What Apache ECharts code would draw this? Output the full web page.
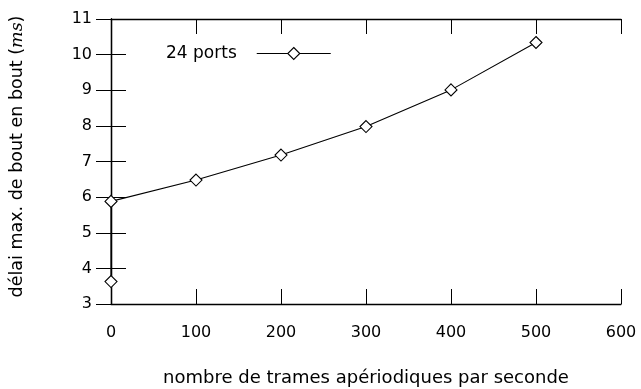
<!DOCTYPE html>
<html>
<head>
<meta charset="utf-8">
<script src="https://cdn.jsdelivr.net/npm/echarts@6/dist/echarts.min.js"></script>
<style>html,body{margin:0;padding:0;background:#fff}#c{width:641px;height:389px}</style>
</head>
<body>
<div id="c"></div>
<script>
var seriesName = '24 ports';
var xValues = [0, 0, 100, 200, 300, 400, 500];
var yValues = [3.63, 5.88, 6.48, 7.18, 7.98, 9.01, 10.34];
var xTicks = [0, 100, 200, 300, 400, 500, 600];
var yTicks = [3, 4, 5, 6, 7, 8, 9, 10, 11];
var xTitle = 'nombre de trames apériodiques par seconde';

var FONT = 'DejaVu Sans';
var chart = echarts.init(document.getElementById('c'), null, {renderer: 'canvas'});
var data = xValues.map(function (x, i) { return [x, yValues[i]]; });
var lineStyle = {color: '#000', width: 1.3};
var tickStyle = {color: '#000', width: 1};

chart.setOption({
  animation: false,
  backgroundColor: '#fff',
  grid: {left: 111, right: 20, top: 19, bottom: 85, containLabel: false, outerBoundsMode: 'none'},
  legend: {
    data: [seriesName],
    left: 161, top: 40,
    itemWidth: 74, itemHeight: 15,
    align: 'right',
    lineStyle: {width: 1.1},
    itemStyle: {borderWidth: 1.1},
    textStyle: {fontFamily: FONT, fontSize: 17, color: '#000', padding: [0, 15, 0, 0]}
  },
  xAxis: [{
    type: 'value', min: xTicks[0], max: xTicks[xTicks.length - 1], interval: 100,
    axisLine: {lineStyle: lineStyle},
    axisTick: {inside: true, length: 15, lineStyle: tickStyle},
    splitLine: {show: false},
    axisLabel: {fontFamily: FONT, fontSize: 16, color: '#000', margin: 21},
    name: xTitle, nameLocation: 'middle', nameGap: 65,
    nameTextStyle: {fontFamily: FONT, fontSize: 18, color: '#000'}
  }, {
    type: 'value', position: 'top', min: xTicks[0], max: xTicks[xTicks.length - 1], interval: 100,
    axisLine: {lineStyle: lineStyle},
    axisTick: {inside: true, length: 15, lineStyle: tickStyle},
    axisLabel: {show: false}, splitLine: {show: false}
  }],
  yAxis: [{
    type: 'value', min: yTicks[0], max: yTicks[yTicks.length - 1], interval: 1,
    axisLine: {show: true, lineStyle: lineStyle},
    axisTick: {show: true, inside: true, length: 15, lineStyle: tickStyle},
    splitLine: {show: false},
    axisLabel: {fontFamily: FONT, fontSize: 16, color: '#000', margin: 19},
    name: '{n|délai max. de bout en bout (}{i|ms}{n|)}',
    nameLocation: 'middle', nameGap: 85, nameRotate: 90,
    nameTextStyle: {
      padding: [0, 0, 0, 10],
      rich: {
        n: {fontFamily: FONT, fontSize: 17.5, color: '#000'},
        i: {fontFamily: 'DejaVu Serif', fontStyle: 'italic', fontSize: 17.5, color: '#000'}
      }
    }
  }, {
    type: 'value', position: 'right', min: yTicks[0], max: yTicks[yTicks.length - 1], interval: 1,
    axisLine: {show: true, lineStyle: lineStyle},
    axisTick: {show: true, inside: true, length: 15, lineStyle: tickStyle},
    axisLabel: {show: false}, splitLine: {show: false}
  }],
  series: [{
    name: seriesName,
    type: 'line',
    data: data,
    symbol: 'diamond',
    symbolSize: 12,
    showAllSymbol: true,
    lineStyle: {color: '#000', width: 1.1},
    itemStyle: {color: '#fff', borderColor: '#000', borderWidth: 1.1}
  }]
});
</script>
</body>
</html>
